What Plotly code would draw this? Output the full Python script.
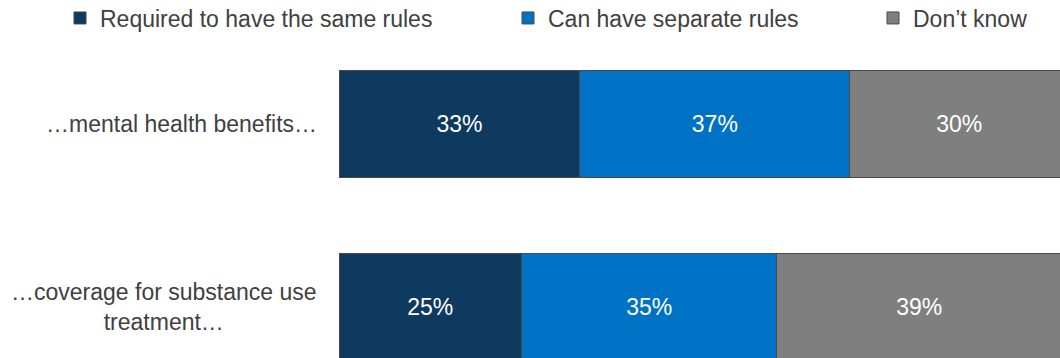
import plotly.graph_objects as go

# Survey responses: should insurers follow the same rules for...
categories = ["…mental health benefits…", "…coverage for substance use<br>treatment…"]
series_names = ["Required to have the same rules", "Can have separate rules", "Don’t know"]
required_same = [33, 25]
separate_rules = [37, 35]
dont_know = [30, 39]

colors = ["#0F3A5F", "#0072C6", "#7F7F7F"]
values = [required_same, separate_rules, dont_know]
legend_ids = ["legend", "legend2", "legend3"]
legend_text_x = [100, 548, 913]
ypos = list(range(len(categories)))
FONT = "Liberation Sans, Arial"
FS = 23

fig = go.Figure()
for name, vals, col, lg in zip(series_names, values, colors, legend_ids):
    fig.add_trace(go.Bar(
        y=ypos, x=vals, name=name, orientation="h",
        marker=dict(color=col, line=dict(color="#4A4A4A", width=1)),
        width=0.58,
        text=[f"{v}%" for v in vals], textposition="inside",
        insidetextanchor="middle", textangle=0,
        textfont=dict(color="white", size=FS, family=FONT),
        legend=lg, hoverinfo="skip",
    ))

# category labels, centred line by line
for yi, cat in zip(ypos, categories):
    fig.add_annotation(
        x=0, xref="x", y=yi, yref="y", text=cat, showarrow=False,
        xanchor="right", xshift=-20, align="center",
        font=dict(size=FS, color="#404040", family=FONT),
    )

legend_style = dict(
    orientation="h", xanchor="left", yanchor="middle", yref="container",
    y=1 - 18 / 358, font=dict(size=FS, color="#404040", family=FONT),
    bgcolor="rgba(0,0,0,0)", itemwidth=30, itemclick=False, itemdoubleclick=False,
)
layout_legends = {
    lg: dict(legend_style, x=(tx - 40) / 1060, xref="container")
    for lg, tx in zip(legend_ids, legend_text_x)
}
fig.update_layout(
    width=1060, height=358,
    margin=dict(l=339, r=0, t=40, b=0, pad=0),
    paper_bgcolor="white", plot_bgcolor="white",
    barmode="stack",
    showlegend=True,
    xaxis=dict(range=[0, 98.8], visible=False, fixedrange=True),
    yaxis=dict(range=[1.279, -0.459], showticklabels=False, showgrid=False,
               zeroline=False, showline=False, fixedrange=True),
    font=dict(family=FONT),
    uniformtext=dict(minsize=FS, mode="show"),
    **layout_legends,
)

fig.write_html("out.html")
